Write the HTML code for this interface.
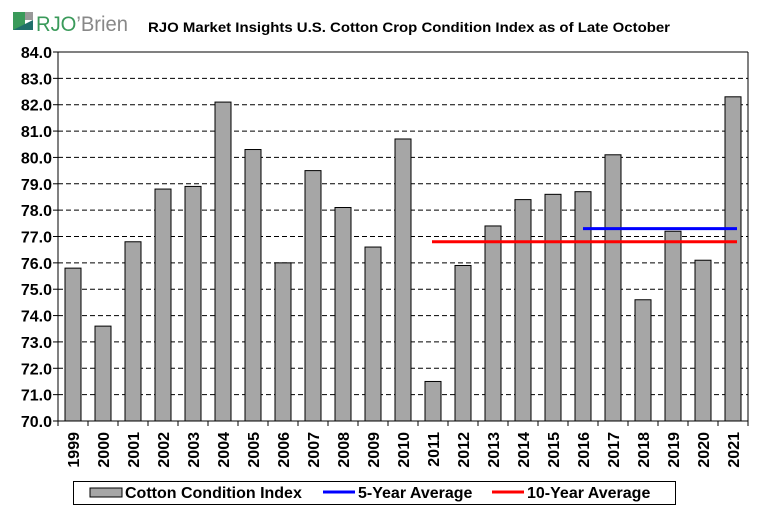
<!DOCTYPE html>
<html><head><meta charset="utf-8"><style>
body{margin:0;background:#fff}
svg text{font-family:"Liberation Sans",Arial,sans-serif;font-weight:bold;fill:#000}
</style></head><body>
<svg width="763" height="516" viewBox="0 0 763 516" xmlns="http://www.w3.org/2000/svg">
<rect x="0" y="0" width="763" height="516" fill="#fff"/>
<rect x="13" y="12" width="12" height="18" fill="#3a9a5a"/>
<rect x="25" y="12" width="8" height="8" fill="#999"/>
<polygon points="13,30 33,30 33,20" fill="#1f6f6a"/>
<text x="36" y="31" font-size="21" style="font-weight:normal;fill:#3a9a5a" textLength="92" lengthAdjust="spacingAndGlyphs">RJO<tspan style="fill:#888">’Brien</tspan></text>
<text x="148" y="32" font-size="14" textLength="522" lengthAdjust="spacingAndGlyphs">RJO Market Insights U.S. Cotton Crop Condition Index as of Late October</text>
<g id="chart"></g>
</svg>
<script>
const g=document.getElementById('chart');const NS='http://www.w3.org/2000/svg';
function el(t,a,txt){const e=document.createElementNS(NS,t);for(const k in a)e.setAttribute(k,a[k]);if(txt!==undefined)e.textContent=txt;g.appendChild(e);return e;}
const L=58,R=748,T=52,B=421;const y=v=>B-(v-70)*(B-T)/14;
for(let v=70;v<=84;v++){const yy=y(v);
 if(v>70&&v<84)el('line',{x1:L,x2:R,y1:yy,y2:yy,stroke:'#000','stroke-dasharray':'5,3','stroke-width':1});
 el('line',{x1:L-5,x2:L,y1:yy,y2:yy,stroke:'#000'});
 el('text',{x:L-6,y:yy+6,'text-anchor':'end','font-size':16},v.toFixed(1));}
el('line',{x1:L,x2:R,y1:T,y2:T,stroke:'#000'});
el('line',{x1:R,x2:R,y1:T,y2:B,stroke:'#000'});
const vals=[75.8,73.6,76.8,78.8,78.9,82.1,80.3,76.0,79.5,78.1,76.6,80.7,71.5,75.9,77.4,78.4,78.6,78.7,80.1,74.6,77.2,76.1,82.3];
const w=30;
vals.forEach((v,i)=>{const cx=L+w*i+w/2;
 el('rect',{x:cx-8,y:y(v),width:16,height:B-y(v),fill:'#a6a6a6',stroke:'#000','stroke-width':1});
 el('line',{x1:L+w*i,x2:L+w*i,y1:B,y2:B+5,stroke:'#000'});
 el('text',{x:0,y:0,'font-size':16,'text-anchor':'end',transform:`translate(${cx+6},${B+11}) rotate(-90)`},1999+i);});
el('line',{x1:R,x2:R,y1:B,y2:B+5,stroke:'#000'});
el('line',{x1:L,x2:L,y1:T,y2:B,stroke:'#000'});
el('line',{x1:L,x2:R,y1:B,y2:B,stroke:'#000'});
el('line',{x1:583,x2:737,y1:y(77.3),y2:y(77.3),stroke:'#0000ff','stroke-width':3});
el('line',{x1:432,x2:737,y1:y(76.8),y2:y(76.8),stroke:'#ff0000','stroke-width':3});
el('rect',{x:73.5,y:481.5,width:602,height:23,fill:'#fff',stroke:'#000'});
el('rect',{x:90,y:488,width:32,height:9,fill:'#a6a6a6',stroke:'#000'});
el('text',{x:125,y:498,'font-size':16},'Cotton Condition Index');
el('line',{x1:323,x2:355,y1:492,y2:492,stroke:'#0000ff','stroke-width':3});
el('text',{x:358,y:498,'font-size':16},'5-Year Average');
el('line',{x1:492,x2:524,y1:492,y2:492,stroke:'#ff0000','stroke-width':3});
el('text',{x:527,y:498,'font-size':16},'10-Year Average');
</script>
</body></html>
